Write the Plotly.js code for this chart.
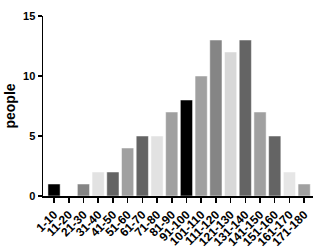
<!DOCTYPE html>
<html><head><meta charset="utf-8">
<script src="https://cdn.plot.ly/plotly-3.0.1.min.js"></script>
<style>html,body{margin:0;padding:0;background:#fff;}#chart{width:327px;height:249px;}</style>
</head><body><div id="chart"></div>
<script>
var categories = ["1-10","11-20","21-30","31-40","41-50","51-60","61-70","71-80","81-90","91-100","101-110","111-120","121-130","131-140","141-150","151-160","161-170","171-180"];
var people = [1,0,1,2,2,4,5,5,7,8,10,13,12,13,7,5,2,1];
var barColors = ["#000000","#a0a0a0","#858585","#e2e2e2","#646464","#a0a0a0","#646464","#e2e2e2","#a0a0a0","#000000","#a0a0a0","#858585","#d8d8d8","#646464","#a0a0a0","#646464","#e6e6e6","#a0a0a0"];
var font = {family:"Liberation Sans, Arial, sans-serif", size:10, color:"#000"};
Plotly.newPlot("chart", [{
  type:"bar", x:categories, y:people,
  marker:{color:barColors, line:{color:"#ffffff", width:0.5}},
  hoverinfo:"none"
}], {
  width:327, height:249,
  margin:{l:43, r:14, t:16, b:53},
  paper_bgcolor:"#fff", plot_bgcolor:"#fff",
  bargap:0.17,
  showlegend:false,
  font:font,
  xaxis:{
    type:"category", tickangle:-45, automargin:false,
    tickmode:"array", tickvals:categories, ticktext:categories,
    tickfont:{family:"Liberation Sans, Arial, sans-serif", size:12, weight:"bold"},
    showline:true, linecolor:"#000", linewidth:2, ticks:"outside", ticklen:5, tickwidth:1.5, tickcolor:"#000",
    showgrid:false, zeroline:false, range:[-0.75,17.6]
  },
  yaxis:{
    range:[0,15], tickvals:[0,5,10,15], ticktext:["0","5","10","15"], automargin:false,
    tickfont:{family:"Liberation Sans, Arial, sans-serif", size:11, weight:"bold"},
    showline:true, linecolor:"#000", linewidth:1.5, ticks:"outside", ticklen:4, tickwidth:1.5, tickcolor:"#000",
    showgrid:false, zeroline:false,
    title:{text:"people", font:{family:"Liberation Sans, Arial, sans-serif", size:14, weight:"bold"}, standoff:4}
  }
}, {staticPlot:true});
</script></body></html>
